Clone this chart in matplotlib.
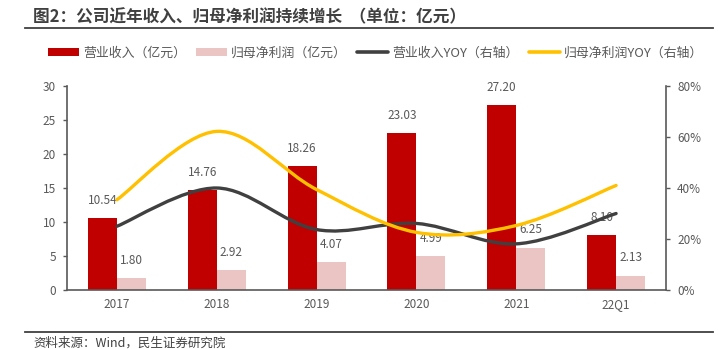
import matplotlib
matplotlib.use("Agg")
import matplotlib.pyplot as plt
from matplotlib.path import Path
from matplotlib.patches import PathPatch, Patch
from matplotlib.lines import Line2D
import numpy as np

plt.rcParams['font.family'] = ['Noto Sans CJK SC', 'DejaVu Sans']

# ---- data ----
categories = ["2017", "2018", "2019", "2020", "2021", "22Q1"]
revenue = [10.54, 14.76, 18.26, 23.03, 27.20, 8.10]          # 营业收入（亿元）
net_profit = [1.80, 2.92, 4.07, 4.99, 6.25, 2.13]            # 归母净利润（亿元）
revenue_yoy = [25.0, 40.0, 23.7, 26.1, 18.1, 30.0]           # 营业收入YOY（%）
profit_yoy = [35.4, 62.2, 39.4, 22.6, 25.3, 41.0]            # 归母净利润YOY（%）
left_ticks = [0, 5, 10, 15, 20, 25, 30]
right_ticks = [0, 20, 40, 60, 80]

RED = "#C00000"
PINK = "#EBC4C4"
GREY = "#404040"
YELLOW = "#FFC000"
TXT = "#595959"
AX = "#595959"


def smooth_path(xs, ys):
    """Catmull-Rom style cubic Bezier through every point."""
    pts = np.column_stack([xs, ys]).astype(float)
    n = len(pts)
    verts = [pts[0]]
    codes = [Path.MOVETO]
    for i in range(n - 1):
        p0 = pts[i - 1] if i > 0 else pts[i]
        p1 = pts[i]
        p2 = pts[i + 1]
        p3 = pts[i + 2] if i + 2 < n else pts[i + 1]
        c1 = p1 + (p2 - p0) / 6.0
        c2 = p2 - (p3 - p1) / 6.0
        verts += [c1, c2, p2]
        codes += [Path.CURVE4] * 3
    return Path(verts, codes)


fig = plt.figure(figsize=(7.18, 3.49), dpi=100)
ax = fig.add_axes([67 / 718, 1 - 290 / 349, (666 - 67) / 718, (290 - 86) / 349])
ax2 = ax.twinx()

x = np.arange(len(categories))
w = 0.29
ax.bar(x - w / 2, revenue, width=w, color=RED, zorder=2)
ax.bar(x + w / 2, net_profit, width=w, color=PINK, zorder=2)

for xi, v in zip(x, revenue):
    ax.annotate(f"{v:.2f}", (xi - w / 2, v), xytext=(0, 8), textcoords="offset points",
                ha="center", va="bottom", fontsize=8.5, color=TXT)
for xi, v in zip(x, net_profit):
    ax.annotate(f"{v:.2f}", (xi + w / 2, v), xytext=(0, 8), textcoords="offset points",
                ha="center", va="bottom", fontsize=8.5, color=TXT)

ax.set_xlim(-0.5, len(categories) - 0.5)
ax.set_ylim(0, 30)
ax.set_yticks(left_ticks)
ax.set_xticks(x)
ax.set_xticklabels(categories)
ax.tick_params(axis="x", length=0, pad=6, labelsize=8.5, labelcolor=TXT)
ax.tick_params(axis="y", length=3, width=1, color=AX, pad=5, labelsize=8.5, labelcolor=TXT,
               direction="out")

ax2.set_ylim(0, 80)
ax2.set_yticks(right_ticks)
ax2.set_yticklabels([f"{t}%" for t in right_ticks])
ax2.tick_params(axis="y", length=3, width=1, color=AX, pad=5, labelsize=8.5, labelcolor=TXT,
                direction="out")

ax2.add_patch(PathPatch(smooth_path(x, revenue_yoy), facecolor="none", edgecolor=GREY,
                        lw=2.4, capstyle="round", zorder=3))
ax2.add_patch(PathPatch(smooth_path(x, profit_yoy), facecolor="none", edgecolor=YELLOW,
                        lw=2.4, capstyle="round", zorder=3))

for a in (ax, ax2):
    a.spines["top"].set_visible(False)
    for s in ("left", "right", "bottom"):
        a.spines[s].set_color(AX)
        a.spines[s].set_linewidth(1.2)
ax.spines["right"].set_visible(False)
ax2.spines["left"].set_visible(False)
ax2.spines["bottom"].set_visible(False)

# legend
handles = [
    Patch(facecolor=RED, edgecolor="none"),
    Patch(facecolor=PINK, edgecolor="none"),
    Line2D([0], [0], color=GREY, lw=2.6, solid_capstyle="round"),
    Line2D([0], [0], color=YELLOW, lw=2.6, solid_capstyle="round"),
]
labels = ["营业收入（亿元）", "归母净利润（亿元）", "营业收入YOY（右轴）", "归母净利润YOY（右轴）"]
leg = fig.legend(handles, labels, loc="center left", bbox_to_anchor=(48 / 718, 1 - 53 / 349),
                 ncol=4, frameon=False, fontsize=9.3, handlelength=2.4, handleheight=0.55,
                 handletextpad=0.3, columnspacing=0.8, borderpad=0, borderaxespad=0)
for t in leg.get_texts():
    t.set_color(TXT)

# title and source
fig.text(33 / 718, 1 - 17 / 349, "图2：公司近年收入、归母净利润持续增长  （单位：亿元）",
         fontsize=12, fontweight="bold", color=GREY, ha="left", va="center")
fig.add_artist(Line2D([25 / 718, 713 / 718], [1 - 28 / 349, 1 - 28 / 349], color="#404040", lw=1.3))
fig.add_artist(Line2D([25 / 718, 713 / 718], [1 - 332 / 349, 1 - 332 / 349], color="#404040", lw=1.3))
fig.text(33 / 718, 1 - 343 / 349, "资料来源：Wind，民生证券研究院",
         fontsize=9, color=GREY, ha="left", va="center")

fig.savefig("out.png", dpi=100)
